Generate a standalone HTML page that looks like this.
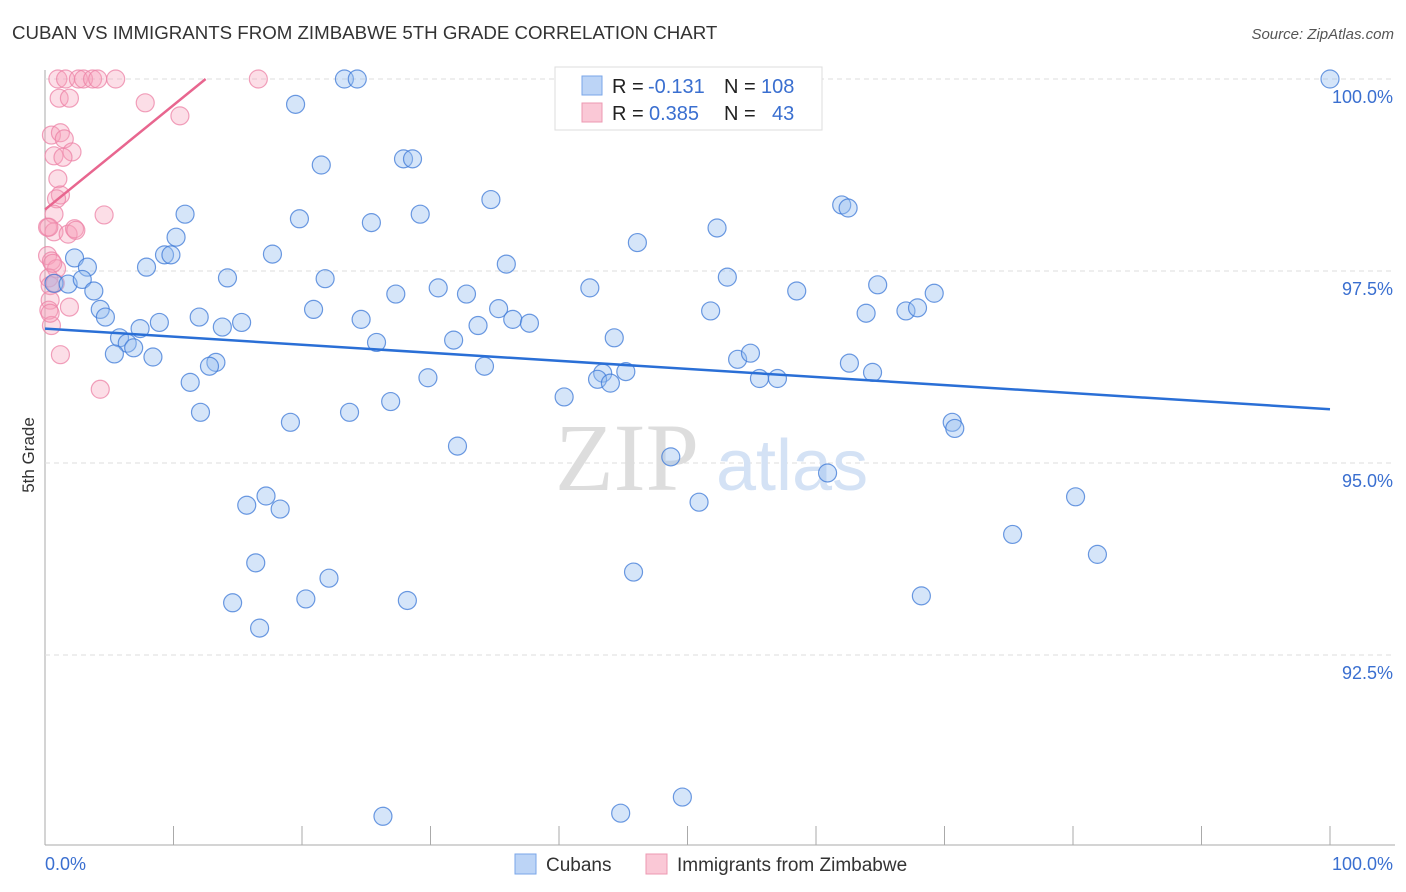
<!DOCTYPE html>
<html><head><meta charset="utf-8">
<style>
body{margin:0;background:#fff;font-family:"Liberation Sans",sans-serif;}
svg{display:block}
</style></head>
<body>
<svg id="chart" width="1406" height="892" xmlns="http://www.w3.org/2000/svg">
<text x="12" y="39" font-size="18.7" fill="#333">CUBAN VS IMMIGRANTS FROM ZIMBABWE 5TH GRADE CORRELATION CHART</text>
<text x="1394" y="39" font-size="15" fill="#555" font-style="italic" text-anchor="end">Source: ZipAtlas.com</text>
<text transform="translate(34,455) rotate(-90)" font-size="17" fill="#333" text-anchor="middle">5th Grade</text>
<g id="grid"></g>
<text x="555" y="490" font-size="96" fill="#ddd" font-family="Liberation Serif">ZIP</text>
<text x="716" y="490" font-size="72" fill="#d4e2f5">atlas</text>
<g id="pts"></g>
<g id="lines"></g>
<g>
<rect x="555" y="67" width="267" height="63" fill="#fff" stroke="#ddd"/>
<rect x="582" y="76" width="20" height="19" fill="#bcd4f6" stroke="#7aa6e8"/>
<rect x="582" y="103" width="20" height="19" fill="#fac8d6" stroke="#ec98b2"/>
<text x="612" y="93" font-size="20" fill="#222">R =</text>
<text x="648" y="93" font-size="20" fill="#3a6fd0">-0.131</text>
<text x="724" y="93" font-size="20" fill="#222">N =</text>
<text x="761" y="93" font-size="20" fill="#3a6fd0">108</text>
<text x="612" y="120" font-size="20" fill="#222">R =</text>
<text x="649" y="120" font-size="20" fill="#3a6fd0">0.385</text>
<text x="724" y="120" font-size="20" fill="#222">N =</text>
<text x="772" y="120" font-size="20" fill="#3a6fd0">43</text>
</g>
<g>
<rect x="515" y="854" width="21" height="20" fill="#bcd4f6" stroke="#7aa6e8"/>
<text x="546" y="871" font-size="19" fill="#333">Cubans</text>
<rect x="646" y="854" width="21" height="20" fill="#fac8d6" stroke="#ec98b2"/>
<text x="677" y="871" font-size="19" fill="#333">Immigrants from Zimbabwe</text>
</g>
</svg>
<script>
const yTicks=[100,97.5,95,92.5];
const yTickLabels=["100.0%","97.5%","95.0%","92.5%"];
const xTickLabels=["0.0%","100.0%"];
const cubanX=[23.3,24.3,100,19.5,21.5,27.9,28.6,34.7,10.9,19.8,29.2,25.4,62,62.5,52.3,10.2,46.1,9.3,9.8,17.7,2.3,7.9,3.3,35.9,14.2,21.8,53.1,0.7,1.8,2.9,3.8,42.4,30.6,32.8,27.3,58.5,64.8,69.2,4.3,4.7,12,8.9,15.3,20.9,35.3,36.4,37.7,33.7,51.8,63.9,67,67.9,13.8,7.4,24.6,5.8,6.4,6.9,25.8,31.8,44.3,5.4,8.4,13.3,12.8,34.2,53.9,54.9,62.6,64.4,43.4,43,44,45.2,55.6,57,29.8,11.3,40.4,26.9,12.1,23.7,19.1,70.6,70.8,32.1,48.7,60.9,17.2,15.7,18.3,50.9,80.2,75.3,81.9,16.4,22.1,45.8,14.6,20.3,28.2,68.2,16.7,26.3,44.8,49.6];
const cubanY=[100,100,100,99.67,98.88,98.96,98.96,98.43,98.24,98.18,98.24,98.13,98.36,98.32,98.06,97.94,97.87,97.71,97.71,97.72,97.67,97.55,97.55,97.59,97.41,97.4,97.42,97.34,97.33,97.39,97.24,97.28,97.28,97.2,97.2,97.24,97.32,97.21,97.0,96.9,96.9,96.83,96.83,97.0,97.01,96.87,96.82,96.79,96.98,96.95,96.98,97.02,96.77,96.75,96.87,96.63,96.56,96.5,96.57,96.6,96.63,96.42,96.38,96.31,96.26,96.26,96.35,96.43,96.3,96.18,96.17,96.09,96.04,96.19,96.1,96.1,96.11,96.05,95.86,95.8,95.66,95.66,95.53,95.53,95.45,95.22,95.08,94.87,94.57,94.45,94.4,94.49,94.56,94.07,93.81,93.7,93.5,93.58,93.18,93.23,93.21,93.27,92.85,90.4,90.44,90.65];
const zimX=[1,1.6,2.6,3,3.7,4.1,5.5,16.6,1.1,1.9,7.8,10.5,0.5,1.2,1.5,2.1,0.7,1.4,1,1.2,0.9,0.7,4.6,0.2,0.7,1.8,2.3,2.4,0.2,0.5,0.9,0.3,0.4,0.4,0.3,1.9,0.5,1.2,4.3,0.8,0.3,0.6,0.4];
const zimY=[100,100,100,100,100,100,100,100,99.75,99.75,99.69,99.52,99.27,99.3,99.22,99.05,99.0,98.98,98.7,98.49,98.44,98.24,98.23,98.07,98.01,97.98,98.05,98.03,97.7,97.63,97.53,97.41,97.31,97.12,96.99,97.03,96.79,96.41,95.96,97.34,98.07,97.6,96.95];
const blueLine=[0,96.75,100,95.7];
const pinkLine=[0,98.3,12.5,100];
const X=v=>45+v*12.85, Y=v=>79+(100-v)*76.8;
const NS="http://www.w3.org/2000/svg";
function mk(t,a,p){const e=document.createElementNS(NS,t);for(const k in a)e.setAttribute(k,a[k]);p.appendChild(e);return e;}
const grid=document.getElementById('grid');
const svg=document.getElementById('chart');
mk('line',{x1:45,y1:70,x2:45,y2:845,stroke:'#aaa'},grid);
mk('line',{x1:45,y1:845,x2:1395,y2:845,stroke:'#aaa'},grid);
yTicks.forEach((t,i)=>{
  const l=mk('line',{x1:45,y1:Y(t),x2:1395,y2:Y(t),stroke:'#ddd','stroke-dasharray':'5,4'},grid);
  
  
  const tx=mk('text',{x:1393,y:Y(t)+24,'font-size':18,fill:'#3a6fd0','text-anchor':'end'},svg);
  tx.textContent=yTickLabels[i];
  
  
});
for(let i=0;i<=10;i++){const l=mk('line',{x1:X(i*10),y1:826,x2:X(i*10),y2:845,stroke:'#aaa'},grid);
  
  }
[[0,'start',45],[1,'end',1393]].forEach(([i,a,x])=>{const t=mk('text',{x:x,y:870,'font-size':18,fill:'#3a6fd0','text-anchor':a},svg);t.textContent=xTickLabels[i];
  
  });
const pts=document.getElementById('pts');
zimX.forEach((v,i)=>{const c=mk('circle',{cx:X(v),cy:Y(zimY[i]),r:9,fill:'rgba(245,160,185,0.35)',stroke:'rgba(236,130,165,0.75)','stroke-width':1.2},pts);
  
  });
cubanX.forEach((v,i)=>{const c=mk('circle',{cx:X(v),cy:Y(cubanY[i]),r:9,fill:'rgba(150,190,240,0.4)',stroke:'rgba(60,120,215,0.75)','stroke-width':1.2},pts);
  
  });
const lines=document.getElementById('lines');
const b=mk('line',{x1:X(blueLine[0]),y1:Y(blueLine[1]),x2:X(blueLine[2]),y2:Y(blueLine[3]),stroke:'#2a6fd6','stroke-width':2.5},lines);


const p=mk('line',{x1:X(pinkLine[0]),y1:Y(pinkLine[1]),x2:X(pinkLine[2]),y2:Y(pinkLine[3]),stroke:'#e8668f','stroke-width':2.5},lines);


</script>
</body></html>
